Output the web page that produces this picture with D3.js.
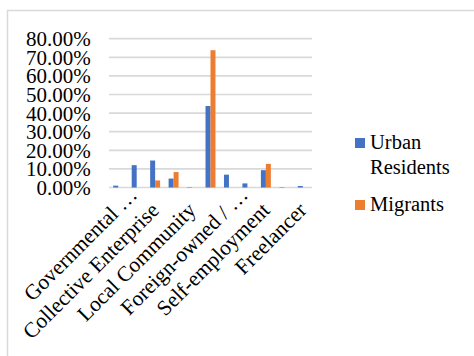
<!DOCTYPE html>
<html>
<head>
<meta charset="utf-8">
<script src="https://cdn.jsdelivr.net/npm/d3@7"></script>
<style>
  html, body { margin: 0; padding: 0; background: #fff; }
  svg { display: block; }
  svg text { font-family: "Liberation Serif", serif; }
</style>
</head>
<body>
<script>
// Employment sector shares, urban residents vs migrants
const categories = [
  "Governmental Agency", "State-owned Enterprise", "Collective Enterprise",
  "Private Enterprise", "Local Community", "Individual Business",
  "Foreign-owned / Joint Venture", "Public Institution", "Self-employment",
  "Other", "Freelancer"
];
// Axis labels as printed (every other category, long names truncated)
const tickLabels = [
  "Governmental …", "", "Collective Enterprise", "", "Local Community", "",
  "Foreign-owned / …", "", "Self-employment", "", "Freelancer"
];
const seriesNames = ["Urban Residents", "Migrants"];
const urbanResidents = [0.010, 0.120, 0.145, 0.048, 0.002, 0.438, 0.069, 0.022, 0.093, 0.002, 0.008];
const migrants       = [0.000, 0.000, 0.038, 0.083, 0.000, 0.738, 0.000, 0.000, 0.127, 0.000, 0.000];
const yTicks = [0, 0.1, 0.2, 0.3, 0.4, 0.5, 0.6, 0.7, 0.8];
const colors = ["#4472C4", "#ED7D31"];

const W = 474, H = 356;
const plot = { left: 109, right: 312, top: 38.7, bottom: 187.5 };
const serifFace = "Liberation Serif, serif";

const rows = categories.map((c, i) => ({ cat: c, values: [urbanResidents[i], migrants[i]] }));

const svg = d3.select("body").append("svg")
  .attr("width", W).attr("height", H);

svg.append("rect").attr("width", W).attr("height", H).attr("fill", "#fff");

// chart area border
svg.append("rect")
  .attr("x", 7.5).attr("y", 10.5)
  .attr("width", W + 20).attr("height", H + 20)
  .attr("fill", "none").attr("stroke", "#d9d9d9").attr("stroke-width", 1.5);

const x0 = d3.scaleBand().domain(categories)
  .range([plot.left, plot.right]).paddingInner(0.46).paddingOuter(0.23);
const x1 = d3.scaleBand().domain(seriesNames).range([0, x0.bandwidth()]);
const y = d3.scaleLinear().domain([0, 0.8]).range([plot.bottom, plot.top]);

// horizontal gridlines
svg.append("g").selectAll("line").data(yTicks).join("line")
  .attr("x1", plot.left).attr("x2", plot.right)
  .attr("y1", d => y(d)).attr("y2", d => y(d))
  .attr("stroke", "#d9d9d9").attr("stroke-width", 1.7);

// y axis labels
const yAxis = d3.axisLeft(y).tickValues(yTicks).tickFormat(d3.format(".2%"))
  .tickSize(0).tickPadding(0);
const gy = svg.append("g").attr("transform", `translate(${plot.left - 18.3},0)`).call(yAxis)
  .attr("font-family", serifFace).attr("font-size", 21);
gy.select(".domain").remove();
gy.selectAll("text").attr("fill", "#000").attr("dy", "0.33em");

// bars
svg.append("g").selectAll("g").data(rows).join("g")
  .attr("transform", d => `translate(${x0(d.cat)},0)`)
  .selectAll("rect").data(d => d.values.map((v, k) => ({ s: seriesNames[k], v, k })))
  .join("rect")
  .attr("x", d => x1(d.s))
  .attr("width", x1.bandwidth())
  .attr("y", d => y(d.v))
  .attr("height", d => y(0) - y(d.v))
  .attr("fill", d => colors[d.k]);

// rotated category labels
const xAxis = d3.axisBottom(x0).tickFormat((d, i) => tickLabels[i]).tickSize(0).tickPadding(0);
const gx = svg.append("g").attr("transform", `translate(0,${plot.bottom})`).call(xAxis)
  .attr("font-family", serifFace).attr("font-size", 21.5);
gx.select(".domain").remove();
gx.selectAll("text")
  .attr("fill", "#000")
  .attr("text-anchor", "end")
  .attr("y", 0).attr("dy", 0)
  .attr("dx", d => tickLabels[categories.indexOf(d)].endsWith("…") ? "1em" : 0)
  .attr("transform", "translate(5,24) rotate(-45)");

// legend
const legend = svg.append("g").attr("transform", "translate(355,138)")
  .attr("font-family", serifFace).attr("font-size", 20.5);
const legendItems = [
  { lines: ["Urban", "Residents"], color: colors[0], dy: 0 },
  { lines: ["Migrants"], color: colors[1], dy: 62 }
];
legendItems.forEach(item => {
  const g = legend.append("g").attr("transform", `translate(0,${item.dy})`);
  g.append("rect").attr("width", 10).attr("height", 10).attr("fill", item.color);
  const t = g.append("text").attr("x", 15).attr("y", 10.5).attr("fill", "#000");
  item.lines.forEach((ln, j) => {
    t.append("tspan").attr("x", 15).attr("dy", j === 0 ? 0 : 25).text(ln);
  });
});
</script>
</body>
</html>
